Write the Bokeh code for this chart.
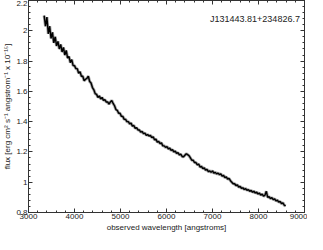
from bokeh.plotting import figure
from bokeh.models import (LinearAxis, SingleIntervalTicker, Range1d, Label,
                          CustomJSTickFormatter)
from bokeh.embed import file_html
from bokeh.resources import INLINE

# observed spectrum, sampled every 30 angstroms from 3340
start_wavelength = 3340
step = 30
flux = [
    2.10, 2.03, 2.09, 1.98, 2.03, 1.95, 1.99, 1.92, 1.96, 1.90,
    1.93, 1.88, 1.91, 1.86, 1.89, 1.84, 1.87, 1.82, 1.83, 1.79,
    1.81, 1.77, 1.77, 1.75, 1.75, 1.72, 1.73, 1.70, 1.70, 1.67,
    1.68, 1.685, 1.70, 1.665, 1.655, 1.625, 1.61, 1.585, 1.58, 1.56,
    1.57, 1.55, 1.56, 1.54, 1.545, 1.53, 1.53, 1.515, 1.53, 1.54,
    1.52, 1.505, 1.48, 1.475, 1.455, 1.455, 1.435, 1.435, 1.415, 1.415,
    1.40, 1.40, 1.385, 1.39, 1.37, 1.375, 1.355, 1.36, 1.345, 1.345,
    1.33, 1.335, 1.32, 1.325, 1.31, 1.315, 1.305, 1.31, 1.295, 1.30,
    1.28, 1.285, 1.265, 1.27, 1.255, 1.26, 1.24, 1.24, 1.23, 1.235,
    1.22, 1.225, 1.21, 1.215, 1.20, 1.205, 1.19, 1.195, 1.18, 1.185,
    1.17, 1.168, 1.178, 1.188, 1.182, 1.175, 1.16, 1.145, 1.145, 1.13,
    1.13, 1.115, 1.12, 1.10, 1.105, 1.09, 1.095, 1.08, 1.085, 1.07,
    1.075, 1.065, 1.075, 1.06, 1.065, 1.055, 1.06, 1.05, 1.055, 1.04,
    1.045, 1.03, 1.035, 1.02, 1.025, 1.01, 1.00, 0.99, 0.99, 0.978,
    0.982, 0.968, 0.972, 0.96, 0.963, 0.952, 0.958, 0.947, 0.951, 0.94,
    0.946, 0.934, 0.94, 0.929, 0.934, 0.922, 0.928, 0.915, 0.921, 0.908,
    0.914, 0.94, 0.90, 0.905, 0.892, 0.898, 0.885, 0.89, 0.876, 0.882,
    0.868, 0.873, 0.858, 0.864, 0.848, 0.843,
]
wavelength = list(range(start_wavelength, start_wavelength + step * len(flux), step))

object_name = "J131443.81+234826.7"
x_label = "observed wavelength [angstroms]"
y_label = "flux [erg cm\u00b2 s\u207b\u00b9 angstrom\u207b\u00b9 x 10\u207b\u00b9\u2075]"

FONT = "Liberation Sans"
TXT = "#222222"

p = figure(width=307, height=234, output_backend="svg", toolbar_location=None,
           x_range=Range1d(3000, 9000), y_range=Range1d(0.8, 2.2),
           min_border_left=0, min_border_right=3, min_border_top=0,
           min_border_bottom=0, x_axis_type=None, y_axis_type=None)
p.background_fill_color = "white"
p.border_fill_color = "white"
p.outline_line_color = "#333333"
p.grid.visible = False

xt = SingleIntervalTicker(interval=1000, num_minor_ticks=5)
yt = SingleIntervalTicker(interval=0.2, num_minor_ticks=5)
yfmt = CustomJSTickFormatter(code="return String(Math.round(tick*10)/10);")
blank = CustomJSTickFormatter(code="return '';")

def style(ax, labels=True):
    ax.major_tick_in = 4
    ax.major_tick_out = 0
    ax.minor_tick_in = 2
    ax.minor_tick_out = 0
    ax.axis_line_color = "#333333"
    ax.major_tick_line_color = "#333333"
    ax.minor_tick_line_color = "#333333"
    ax.major_label_text_font = FONT
    ax.major_label_text_font_size = "8px"
    ax.major_label_text_color = TXT
    ax.major_label_standoff = 1 if labels else 0
    ax.axis_label_text_font = FONT
    ax.axis_label_text_font_size = "8px"
    ax.axis_label_text_font_style = "normal"
    ax.axis_label_text_color = TXT
    ax.axis_label_standoff = 1

bx = LinearAxis(ticker=xt, axis_label=x_label)
style(bx)
p.add_layout(bx, "below")
lx = LinearAxis(ticker=yt, formatter=yfmt, axis_label=y_label)
style(lx)
p.add_layout(lx, "left")
tx = LinearAxis(ticker=xt, formatter=blank)
style(tx, labels=False)
p.add_layout(tx, "above")
rx = LinearAxis(ticker=yt, formatter=blank)
style(rx, labels=False)
p.add_layout(rx, "right")

p.line(wavelength, flux, line_color="#a0a0a0", line_width=3.0)
p.line(wavelength, flux, line_color="black", line_width=1.4)

p.add_layout(Label(x=8900, y=2.08, text=object_name, text_align="right",
                   text_baseline="middle", text_font=FONT, text_font_size="9px",
                   text_color=TXT))

open("out.html", "w").write(file_html(p, INLINE))
